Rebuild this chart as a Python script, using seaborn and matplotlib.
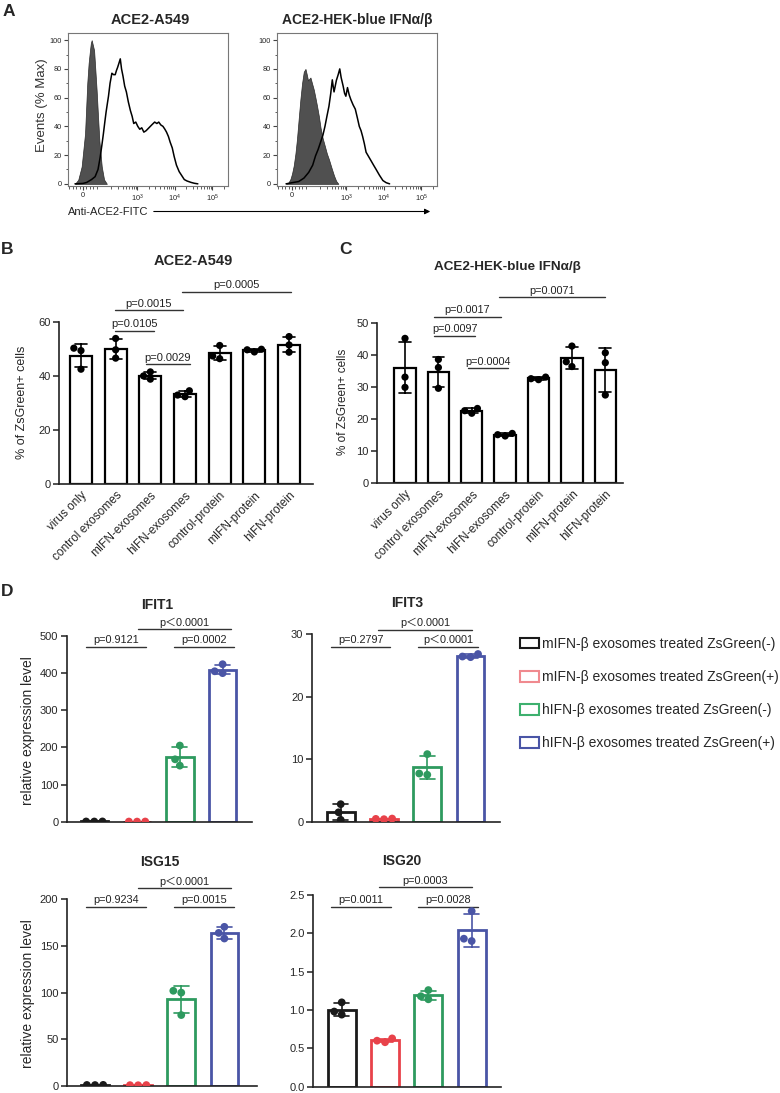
import numpy as np
import pandas as pd
import matplotlib
matplotlib.use('Agg')
import matplotlib.pyplot as plt
import seaborn as sns
from matplotlib.patches import Patch, FancyArrowPatch

W, H = 780, 1093

# ==========================================
# Data
# ==========================================
# A: flow histograms, anti-ACE2-FITC intensity vs % of max
a549_iso_x = [-47, -28, -8, 12, 25, 33, 41, 46, 51, 57, 65, 72, 80, 88, 96, 111, 128, 152]
a549_iso_y = [0, 2.8, 12, 35, 70, 84, 93, 98, 100, 97, 93, 80, 65, 47, 30, 12, 3, 0]
a549_ace2_x = [-47, 0, 22, 50, 71, 88, 100, 112, 123, 134, 145, 157, 168, 185, 207, 230, 254, 275,
               294, 320, 347, 375, 410, 455, 505, 570, 647, 720, 794, 900, 1020, 1150, 1300, 1480,
               1700, 2020, 2400, 2880, 3300, 3700, 4200, 4800, 5400, 5970, 6700, 7470, 8500, 9560,
               11000, 13000, 15000, 17800, 21000, 27000, 33000, 41000]
a549_ace2_y = [0, 0.3, 1, 3, 5, 10, 18, 27, 35, 43, 50, 56, 61, 70, 77, 76, 76, 79,
               81, 84, 87, 80, 75, 68, 64, 57, 51, 47, 42, 43, 40, 38, 39, 36,
               37, 39, 41, 43, 42, 43, 41, 40, 38, 36, 33, 29, 25, 19,
               13, 8.5, 6, 3, 2, 1, 0.4, 0]
hek_iso_x = [-35, -20, -9, 0, 10, 20, 29, 39, 49, 59, 69, 79, 87, 94, 101, 109, 120, 134, 148, 164,
             183, 203, 230, 266, 300, 340, 400, 465, 530, 607]
hek_iso_y = [0, 1, 3.4, 7, 12.6, 21, 31, 45, 58.6, 70, 78, 80, 76, 72, 73, 74, 70, 65.5, 60, 54,
             47, 39, 32, 26, 21, 17, 11, 5.7, 2, 0]
hek_ace2_x = [-35, 0, 39, 70, 98, 125, 149, 175, 203, 235, 266, 300, 340, 380, 418, 440, 465, 500,
              537, 600, 661, 720, 815, 890, 963, 1064, 1180, 1310, 1500, 1720, 1950, 2200, 2450,
              2700, 3000, 3340, 3900, 4550, 5300, 6200, 7600, 9400, 11500, 14200]
hek_ace2_y = [0, 0.8, 1.6, 4, 8, 13, 19.5, 24, 29, 34, 40, 47, 54, 63, 72.4, 68, 64, 68,
              72, 76, 80, 74, 68, 63, 61, 67, 62, 58.6, 55, 52, 46, 40, 37,
              33, 28, 22, 19, 16, 13, 10, 6, 2.3, 0.8, 0]

# B / C: % of ZsGreen+ cells, three replicates per treatment
treatments = ['virus only', 'control exosomes', 'mIFN-exosomes', 'hIFN-exosomes',
              'control-protein', 'mIFN-protein', 'hIFN-protein']
a549_pct = [[50.4, 49.5, 42.6], [54.0, 49.8, 46.7], [41.6, 38.9, 40.1], [34.6, 32.4, 33.0],
            [51.4, 46.5, 47.5], [49.8, 50.0, 49.0], [54.7, 51.6, 48.9]]
hek_pct = [[45.1, 33.0, 29.8], [38.5, 36.0, 29.5], [23.2, 21.7, 22.5], [14.6, 15.4, 15.0],
           [32.2, 33.0, 32.5], [42.7, 36.3, 37.8], [40.6, 37.5, 27.4]]
a549_p = [(1, 2, 'p=0.0105'), (1, 3, 'p=0.0015'), (2, 3, 'p=0.0029'), (3, 6, 'p=0.0005')]
hek_p = [(1, 2, 'p=0.0097'), (1, 3, 'p=0.0017'), (2, 3, 'p=0.0004'), (3, 6, 'p=0.0071')]

# D: relative expression, three replicates per sorted population
populations = ['mIFN-\u03b2 exosomes treated ZsGreen(-)', 'mIFN-\u03b2 exosomes treated ZsGreen(+)',
               'hIFN-\u03b2 exosomes treated ZsGreen(-)', 'hIFN-\u03b2 exosomes treated ZsGreen(+)']
pop_colors = ['#1a1a1a', '#E8424A', '#2E9A5F', '#4A55A6']
legend_colors = ['#1a1a1a', '#F08A8F', '#3DB06E', '#4A55A6']
ifit1 = [[0.6, 0.5, 0.7], [0.4, 0.5, 0.3], [205, 151, 168], [424, 400, 405]]
ifit3 = [[2.8, 1.5, 0.3], [0.45, 0.5, 0.4], [10.8, 7.5, 7.7], [26.3, 26.8, 26.4]]
isg15 = [[1.2, 1.0, 1.1], [0.9, 0.8, 1.0], [102, 100, 76], [170.5, 158, 164]]
isg20 = [[1.1, 0.94, 0.98], [0.58, 0.63, 0.6], [1.26, 1.14, 1.18], [2.29, 1.9, 1.93]]
LT = '\uff1c'
ifit1_p = [(0, 1, 'p=0.9121'), (1, 3, 'p' + LT + '0.0001'), (2, 3, 'p=0.0002')]
ifit3_p = [(0, 1, 'p=0.2797'), (1, 3, 'p' + LT + '0.0001'), (2, 3, 'p' + LT + '0.0001')]
isg15_p = [(0, 1, 'p=0.9234'), (1, 3, 'p' + LT + '0.0001'), (2, 3, 'p=0.0015')]
isg20_p = [(0, 1, 'p=0.0011'), (1, 3, 'p=0.0003'), (2, 3, 'p=0.0028')]

# ==========================================
# Style
# ==========================================
sns.set_style('ticks')
plt.rcParams['font.family'] = ['Liberation Sans', 'Noto Sans CJK JP', 'DejaVu Sans']
plt.rcParams['mathtext.fontset'] = 'custom'
plt.rcParams['mathtext.rm'] = 'Liberation Sans'

fig = plt.figure(figsize=(W / 100, H / 100), dpi=100)


def box(x0, y0, x1, y1):
    return fig.add_axes([x0 / W, 1 - y1 / H, (x1 - x0) / W, (y1 - y0) / H])


def ftext(x, y, s, **kw):
    kw.setdefault('ha', 'center')
    kw.setdefault('va', 'center')
    fig.text(x / W, 1 - y / H, s, **kw)


def flow_panel(ax, iso_x, iso_y, pos_x, pos_y):
    ax.set_xscale('symlog', linthresh=100, linscale=0.41)
    ax.fill_between(iso_x, iso_y, 0, facecolor='#505050', edgecolor='#2a2a2a', lw=0.5)
    sns.lineplot(x=pos_x, y=pos_y, ax=ax, color='black', lw=1.1, sort=False, estimator=None)
    ax.set_xlim(-88, 262144)
    ax.set_ylim(-1.5, 105)
    ax.set_xticks([0, 1e3, 1e4, 1e5])
    ax.set_xticklabels(['0', '$10^3$', '$10^4$', '$10^5$'])
    minor = [-80, -60, -40, -20, 20, 40, 60, 80] + [m * 10 ** k for k in (2, 3, 4) for m in range(2, 10)] + [2e5]
    ax.set_xticks(minor, minor=True)
    ax.set_yticks(range(0, 101, 20))
    ax.set_yticks(range(10, 100, 20), minor=True)
    for s in ax.spines.values():
        s.set_color('#777777')
        s.set_linewidth(0.8)
    ax.tick_params(which='major', length=3, width=0.8, color='#444444', labelsize=5.3, pad=1.5)
    ax.tick_params(which='minor', length=1.8, width=0.6, color='#444444')
    ax.set_xlabel('')
    ax.set_ylabel('')


def bar_panel(ax, cats, reps, palette, bar_lw, dot, xlim, ylim):
    df = pd.DataFrame({'group': np.repeat(cats, [len(r) for r in reps]),
                       'value': np.concatenate(reps)})
    ax.set_xlim(*xlim)
    ax.set_ylim(*ylim)
    sns.barplot(data=df, x='group', y='value', hue='group', order=cats, hue_order=cats,
                palette=palette, fill=False, width=0.64, linewidth=bar_lw,
                errorbar='sd', capsize=0.35, err_kws={'linewidth': 1.2}, legend=False, ax=ax)
    sns.swarmplot(data=df, x='group', y='value', hue='group', order=cats, hue_order=cats,
                  palette=palette, size=dot, linewidth=0, legend=False, ax=ax, zorder=4)
    ax.set_xlim(*xlim)
    ax.set_ylim(*ylim)
    sns.despine(ax=ax)
    for s in ('left', 'bottom'):
        ax.spines[s].set_linewidth(1.2)
        ax.spines[s].set_color('#222222')
    ax.tick_params(axis='y', length=4, width=1.1, color='#222222', pad=2)
    ax.set_xlabel('')
    ax.set_ylabel('')


def sig(ax, comps, layout, fs):
    for (i, j, txt), (pl, pr, y) in zip(comps, layout):
        x0, x1 = i - pl, j + pr
        ax.plot([x0, x1], [y, y], color='#333333', lw=1.0, clip_on=False)
        ax.annotate(txt, ((x0 + x1) / 2, y), xytext=(0, 1.2), textcoords='offset points',
                    ha='center', va='bottom', fontsize=fs, color='#222222', annotation_clip=False)


# ==========================================
# A
# ==========================================
axA1 = box(68, 33, 228, 186)
flow_panel(axA1, a549_iso_x, a549_iso_y, a549_ace2_x, a549_ace2_y)
axA2 = box(277, 33, 437, 186)
flow_panel(axA2, hek_iso_x, hek_iso_y, hek_ace2_x, hek_ace2_y)

ftext(150, 20, 'ACE2-A549', fontsize=10.5, fontweight='bold')
ftext(357, 20, 'ACE2-HEK-blue IFN\u03b1/\u03b2', fontsize=10, fontweight='bold')
ftext(42, 105, 'Events (% Max)', rotation=90, fontsize=9.5, color='#333333')
ftext(68, 211.5, 'Anti-ACE2-FITC', ha='left', fontsize=8, color='#222222')
fig.add_artist(FancyArrowPatch((151 / W, 1 - 211.5 / H), (433 / W, 1 - 211.5 / H),
                               transform=fig.transFigure, arrowstyle='-|>', mutation_scale=8,
                               lw=0.8, color='black'))

# ==========================================
# B and C
# ==========================================
axB = box(59.3, 322.3, 313, 484)
bar_panel(axB, treatments, a549_pct, ['black'] * 7, 1.6, 5.2, (-0.625, 6.69), (0, 60))
axB.set_yticks([0, 20, 40, 60])
sig(axB, a549_p, [(0.02, 0.1, 56.9), (0.02, -0.06, 64.4), (0.13, 0.14, 44.4), (0.09, 0.05, 71.4)], 8)

axC = box(377.3, 322.7, 623, 482.7)
bar_panel(axC, treatments, hek_pct, ['black'] * 7, 1.6, 5.2, (-0.83, 6.53), (0, 50))
axC.set_yticks(range(0, 51, 10))
sig(axC, hek_p, [(0.13, 0.1, 45.8), (0.13, -0.13, 51.9), (0.1, 0.1, 35.7), (0.17, 0.0, 57.9)], 7.8)

for ax in (axB, axC):
    ax.set_xticks(range(len(treatments)))
    ax.set_xticklabels(treatments, rotation=45, ha='right', rotation_mode='anchor')
    ax.tick_params(axis='x', length=0, pad=4, labelsize=8.5)
    ax.tick_params(axis='y', labelsize=8)

ftext(193, 261, 'ACE2-A549', fontsize=10.5, fontweight='bold')
ftext(507, 267, 'ACE2-HEK-blue IFN\u03b1/\u03b2', fontsize=9.7, fontweight='bold')
ftext(22, 402, '% of ZsGreen+ cells', rotation=90, fontsize=9)
ftext(343, 402, '% of ZsGreen+ cells', rotation=90, fontsize=8.5)

# ==========================================
# D
# ==========================================
d_specs = [
    ((66.7, 636, 251.7, 821.7), ifit1, (0, 500), range(0, 501, 100), (-0.645, 3.68), ifit1_p,
     [(0.19, 0.2, 471), (-0.02, 0.2, 518), (0.14, 0.26, 471)], 'IFIT1', (157, 605)),
    ((311.7, 634, 500, 821.7), ifit3, (0, 30), [0, 10, 20, 30], (-0.67, 3.68), ifit3_p,
     [(0.23, 0.15, 28.0), (0.13, 0.03, 30.7), (0.21, 0.18, 28.0)], 'IFIT3', (406.7, 603)),
    ((66.7, 899.3, 256.7, 1086), isg15, (0, 200), range(0, 201, 50), (-0.657, 3.75), isg15_p,
     [(0.21, 0.19, 192), (0.0, 0.15, 211.8), (0.17, 0.23, 192)], 'ISG15', (160, 862)),
    ((313.3, 895, 500.7, 1086.7), isg20, (0, 2.5), [0, 0.5, 1.0, 1.5, 2.0, 2.5], (-0.656, 3.67), isg20_p,
     [(0.25, 0.13, 2.35), (0.15, 0.0, 2.6), (0.23, 0.15, 2.35)], 'ISG20', (402, 861)),
]
for rect, reps, ylim, yt, xlim, comps, lay, name, tpos in d_specs:
    ax = box(*rect)
    bar_panel(ax, populations, reps, pop_colors, 2.0, 5.6, xlim, ylim)
    ax.set_yticks(list(yt))
    if name == 'ISG20':
        ax.yaxis.set_major_formatter(matplotlib.ticker.FormatStrFormatter('%.1f'))
    ax.set_xticks([])
    ax.tick_params(axis='y', labelsize=8)
    sig(ax, comps, lay, 7.8)
    ftext(tpos[0], tpos[1], name, fontsize=10, fontweight='bold')

ftext(28, 731, 'relative expression level', rotation=90, fontsize=10)
ftext(28, 994, 'relative expression level', rotation=90, fontsize=10)

handles = [Patch(facecolor='white', edgecolor=c, linewidth=1.5, label=l)
           for c, l in zip(legend_colors, populations)]
fig.legend(handles=handles, loc='upper left', bbox_to_anchor=(520 / W, 1 - 637 / H),
           frameon=False, fontsize=10, handlelength=1.35, handleheight=0.8,
           handletextpad=0.2, labelspacing=1.38, borderpad=0, borderaxespad=0)

# panel letters
for letter, x, y in [('A', 9, 11), ('B', 7.5, 250), ('C', 345, 250), ('D', 7.5, 591)]:
    ftext(x, y, letter, fontsize=12.5, fontweight='bold')

fig.savefig('out.png', dpi=100)
